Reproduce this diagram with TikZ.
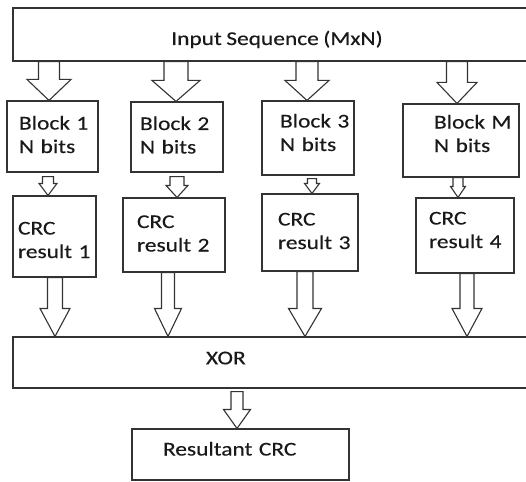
\documentclass[tikz,border=0pt]{standalone}
\usepackage{fontspec}
\setmainfont[FakeStretch=1.2, FakeBold=0.3, WordSpace=0.85]{Carlito}
\usetikzlibrary{calc}

% hollow block arrow: from, to, x offset, half shaft, half head, head length
\newcommand{\fatarrow}[6]{%
  \draw[arrowline] let \p1=(#1), \p2=(#2) in
    (\x1+#3-#4,\y1) -- (\x1+#3-#4,\y2+#6) -- (\x1+#3-#5,\y2+#6) -- (\x1+#3,\y2)
    -- (\x1+#3+#5,\y2+#6) -- (\x1+#3+#4,\y2+#6) -- (\x1+#3+#4,\y1) -- cycle;}

\begin{document}
\begin{tikzpicture}[
    x=1pt, y=-1pt,
    box/.style={rectangle, draw=black!80, line width=1.1pt, fill=white, inner sep=0pt,
        text=black!90, font=\fontsize{19.5}{23.5}\selectfont},
    textbox/.style={box, align=left},
    twoline/.style={text height=13pt, text depth=27pt},
    arrowline/.style={draw=black!80, line width=1.1pt, fill=white, line join=miter}
]
\useasboundingbox (0,0) rectangle (526,481);

% Input sequence
\node[box, minimum width=528pt, minimum height=53pt, text height=25pt, text depth=4pt] (in) at (277,34.5) {Input Sequence (MxN)};

% Blocks of N bits
\node[textbox, twoline, minimum width=91pt, minimum height=71pt, text width=67pt] (b1) at (52.5,136.5) {Block~1\\N~bits};
\node[textbox, twoline, minimum width=92pt, minimum height=70pt, text width=74pt] (b2) at (177,137) {Block~2\\N~bits};
\node[textbox, twoline, minimum width=92pt, minimum height=74pt, text width=56pt, text depth=34pt] (b3) at (308,138) {Block~3\\N~bits};
\node[textbox, twoline, minimum width=116pt, minimum height=73pt, text width=54pt, text depth=37pt] (bm) at (461,140.5) {Block~M\\N~bits};

% CRC results
\node[textbox, twoline, minimum width=83pt, minimum height=81pt, text width=73pt, text height=23pt] (c1) at (54.5,236.5) {CRC\\result~1};
\node[textbox, twoline, minimum width=102pt, minimum height=74pt, text width=74pt] (c2) at (174,235) {CRC\\result~2};
\node[textbox, twoline, minimum width=96pt, minimum height=77pt, text width=64pt] (c3) at (310,232.5) {CRC\\result~3};
\node[textbox, twoline, minimum width=98pt, minimum height=75pt, text width=72pt, text depth=35pt] (c4) at (465,235.5) {CRC\\result~4};

% XOR and result
\node[textbox, minimum width=517pt, minimum height=51pt, text width=131pt, text height=12.6pt, text depth=9pt] (xor) at (271.5,362.5) {XOR};
\node[textbox, minimum width=217pt, minimum height=51pt, text width=155pt, text height=13pt, text depth=11pt] (res) at (240.5,454.5) {Resultant CRC};

% Arrows
\fatarrow{b1.north |- in.south}{b1.north}{-3.5pt}{10.5pt}{22pt}{21pt}
\fatarrow{b2.north |- in.south}{b2.north}{-1pt}{12pt}{24pt}{21pt}
\fatarrow{b3.north |- in.south}{b3.north}{-1pt}{11pt}{22pt}{20pt}
\fatarrow{bm.north |- in.south}{bm.north}{-4pt}{10.5pt}{20pt}{21pt}

\fatarrow{$(b1.south)+(0,4)$}{c1.north}{-4.5pt}{5.5pt}{9pt}{12pt}
\fatarrow{$(b2.south)+(0,4)$}{c2.north}{0pt}{7pt}{11pt}{12pt}
\fatarrow{$(b3.south)+(0,3)$}{c3.north}{4pt}{4.5pt}{7.5pt}{10pt}
\fatarrow{bm.south}{c4.north}{-3pt}{5pt}{7.5pt}{11pt}

\fatarrow{c1.south}{c1.south |- xor.north}{0.5pt}{7.5pt}{15pt}{28pt}
\fatarrow{c2.south}{c2.south |- xor.north}{-6pt}{6.5pt}{13.5pt}{28pt}
\fatarrow{c3.south}{c3.south |- xor.north}{-5pt}{8pt}{16.5pt}{28pt}
\fatarrow{c4.south}{c4.south |- xor.north}{2pt}{7pt}{15pt}{28pt}

\fatarrow{$(res.north |- xor.south)+(0,3)$}{res.north}{-3.5pt}{6pt}{13.5pt}{19pt}

\end{tikzpicture}
\end{document}
